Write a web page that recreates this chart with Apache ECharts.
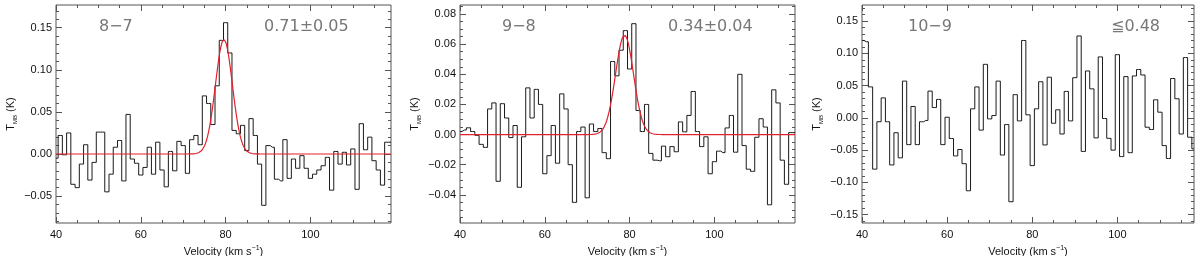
<!DOCTYPE html>
<html><head><meta charset="utf-8">
<script src="https://cdn.jsdelivr.net/npm/echarts@6/dist/echarts.min.js"></script>
<style>html,body{margin:0;padding:0;background:#fff}#c{width:1200px;height:256px}</style>
</head><body><div id="c"></div>
<script>
// ---- data ----
const velStart = 40;   // km/s, first channel
const velStep = 1;     // km/s per channel
const spec87 = [-0.005,0.022,-0.001,0.025,-0.036,-0.040,-0.012,0.011,-0.031,-0.010,
  0.026,0.026,-0.045,-0.024,0.008,0.016,-0.032,0.047,-0.006,-0.011,
  -0.025,-0.016,0.008,-0.024,0.014,-0.019,-0.039,0.003,-0.020,0.015,
  0.010,-0.023,0.017,0.022,0.011,0.069,0.060,0.035,0.081,0.135,
  0.156,0.120,0.028,0.024,0.034,0.004,0.042,0.022,-0.012,-0.061,
  0.010,0.008,-0.030,-0.032,0.017,-0.029,-0.006,-0.017,-0.002,-0.017,
  -0.029,-0.024,-0.019,-0.014,-0.004,-0.043,0.003,-0.012,0.002,-0.013,
  0.006,-0.042,0.036,0.005,0.020,-0.008,-0.019,-0.037,0.014,0.014];
const spec98 = [0.002,0.003,0.0045,0.002,-0.0005,-0.0065,-0.0085,0.017,0.021,-0.031,
  0.0205,0.011,-0.002,0.006,-0.035,-0.0015,0.031,0.011,0.030,0.020,
  -0.026,-0.014,0.006,-0.019,0.027,0.017,-0.020,-0.045,0.002,0.005,
  -0.042,0.007,0.002,0.004,-0.012,-0.016,0.0485,0.039,0.056,0.069,
  0.0435,0.0736,0.016,0.002,0.020,-0.0125,-0.017,-0.0174,-0.0077,-0.0147,
  -0.008,-0.0114,0.0084,0.0018,0.0127,0.0286,0.002,-0.008,-0.0015,-0.026,
  -0.018,-0.011,-0.012,0.0044,0.0127,-0.0117,0.040,-0.0073,-0.023,-0.0244,
  -0.0018,0.0105,0.005,-0.0466,0.0297,0.021,-0.017,-0.033,0.0013,0.0013];
const spec109 = [0.120,0.118,0.048,-0.0795,-0.006,0.031,-0.006,-0.073,-0.023,-0.062,
  0.057,-0.0415,0.0177,-0.0415,-0.006,-0.004,0.0415,0.016,0.0286,-0.0415,
  0.001,-0.032,-0.059,-0.049,-0.071,-0.113,0.014,0.048,-0.019,0.083,
  -0.0016,0.0036,0.057,-0.0576,-0.0104,-0.130,0.036,-0.0047,0.120,0.0047,
  -0.074,0.014,0.056,-0.042,0.063,-0.0083,0.0125,-0.025,0.041,-0.0047,
  0.0623,0.127,-0.052,0.0727,0.045,-0.031,0.0945,-0.001,-0.0317,-0.050,
  0.098,-0.060,0.064,-0.054,0.065,0.075,0.0665,-0.0145,-0.018,0.028,
  0.0088,-0.043,-0.063,0.061,0.0296,-0.025,0.0935,-0.030,-0.048];
// Gaussian fits: [amplitude K, centre km/s, FWHM km/s]
const fit87 = [0.136, 79.6, 4.7];
const fit98 = [0.066, 78.8, 5.0];
const lineLabels = ['8\u22127', '9\u22128', '10\u22129'];
const intensityLabels = ['0.71\u00b10.05', '0.34\u00b10.04', '\u22660.48'];
const xTicks = [40, 60, 80, 100];
const yTicks87 = [-0.05, 0, 0.05, 0.10, 0.15];
const yTicks98 = [-0.04, -0.02, 0, 0.02, 0.04, 0.06, 0.08];
const yTicks109 = [-0.15, -0.10, -0.05, 0, 0.05, 0.10, 0.15];

// ---- layout ----
const panels = [
  {spec: spec87, fit: fit87, yTicks: yTicks87, yMinor: 0.01, xr: [40, 119], yr: [-0.082, 0.177], left: 56, width: 335, t1: 99, t2: 264},
  {spec: spec98, fit: fit98, yTicks: yTicks98, yMinor: 0.005, xr: [40, 119], yr: [-0.0587, 0.086], left: 460, width: 335, t1: 502, t2: 668},
  {spec: spec109, fit: null, yTicks: yTicks109, yMinor: 0.01, xr: [40, 118], yr: [-0.163, 0.175], left: 862, width: 332, t1: 908, t2: 1111}
];
const FONT = '"Liberation Sans", "DejaVu Sans", "Noto Sans CJK SC", sans-serif';
const NOTE_FONT = '"DejaVu Sans ExtraLight", "DejaVu Sans", "Noto Sans CJK SC", sans-serif';
const FRAME = '#555';
const TOP = 5, HEIGHT = 218;

function minorVals(lo, hi, step) {
  const out = [];
  for (let k = Math.ceil(lo / step - 1e-9); k * step <= hi + 1e-12; k++) out.push(Math.round(k * step * 1e6) / 1e6);
  return out;
}
const fmtY = v => (v < -1e-9 ? '\u2212' : '') + Math.abs(v).toFixed(2);

const grid = [], xAxis = [], yAxis = [], series = [], graphic = [];
panels.forEach((p, g) => {
  grid.push({left: p.left, top: TOP, width: p.width, height: HEIGHT, show: true, borderColor: FRAME, borderWidth: 1,
    backgroundColor: 'transparent', containLabel: false, outerBoundsMode: 'none'});
  const xMin = minorVals(p.xr[0], p.xr[1], 5);
  const yMin = minorVals(p.yr[0], p.yr[1], p.yMinor);
  const base = {type: 'value', gridIndex: g, axisLine: {show: false, onZero: false}, splitLine: {show: false}, axisPointer: {show: false}};
  const tick = (vals, len) => ({show: true, inside: true, length: len, customValues: vals, lineStyle: {color: FRAME, width: 1}});
  // x axes: bottom major (labels), bottom minor, top major, top minor
  xAxis.push(Object.assign({}, base, {position: 'bottom', min: p.xr[0], max: p.xr[1], axisTick: tick(xTicks, 6),
    axisLabel: {show: true, customValues: xTicks, margin: 6, color: '#111', fontSize: 11, fontFamily: FONT, formatter: v => String(Math.round(v))},
    name: '{a|Velocity (km s}{s|\u22121}{a|)}', nameLocation: 'middle', nameGap: 17,
    nameTextStyle: {rich: {a: {fontSize: 11, fontFamily: FONT, color: '#111', lineHeight: 14}, s: {fontSize: 7, fontFamily: FONT, color: '#111', verticalAlign: 'top'}}}}));
  xAxis.push(Object.assign({}, base, {position: 'bottom', min: p.xr[0], max: p.xr[1], axisTick: tick(xMin, 3), axisLabel: {show: false}}));
  xAxis.push(Object.assign({}, base, {position: 'top', min: p.xr[0], max: p.xr[1], axisTick: tick(xTicks, 6), axisLabel: {show: false}}));
  xAxis.push(Object.assign({}, base, {position: 'top', min: p.xr[0], max: p.xr[1], axisTick: tick(xMin, 3), axisLabel: {show: false}}));
  // y axes: left major (labels), left minor, right major, right minor
  yAxis.push(Object.assign({}, base, {position: 'left', min: p.yr[0], max: p.yr[1], axisTick: tick(p.yTicks, 6),
    axisLabel: {show: true, customValues: p.yTicks, margin: 4, color: '#111', fontSize: 11, fontFamily: FONT, formatter: fmtY},
    name: '{a|T}{b|MB}{a| (K)}', nameLocation: 'middle', nameRotate: 90, nameGap: 38,
    nameTextStyle: {rich: {a: {fontSize: 11, fontFamily: FONT, color: '#111', lineHeight: 14}, b: {fontSize: 6, fontFamily: FONT, color: '#111', verticalAlign: 'bottom'}}}}));
  yAxis.push(Object.assign({}, base, {position: 'left', min: p.yr[0], max: p.yr[1], axisTick: tick(yMin, 3), axisLabel: {show: false}}));
  yAxis.push(Object.assign({}, base, {position: 'right', min: p.yr[0], max: p.yr[1], axisTick: tick(p.yTicks, 6), axisLabel: {show: false}}));
  yAxis.push(Object.assign({}, base, {position: 'right', min: p.yr[0], max: p.yr[1], axisTick: tick(yMin, 3), axisLabel: {show: false}}));

  const data = p.spec.map((v, i) => [velStart + i * velStep, v]);
  series.push({type: 'line', xAxisIndex: 4 * g, yAxisIndex: 4 * g, data, step: 'middle', showSymbol: false, symbol: 'none',
    lineStyle: {color: '#1a1a1a', width: 1}, silent: true, z: 2});
  if (p.fit) {
    const [amp, c, fwhm] = p.fit;
    const sig = fwhm / 2.3548;
    const fd = [];
    for (let x = p.xr[0]; x <= p.xr[1] + 1e-9; x += 0.2) fd.push([x, amp * Math.exp(-0.5 * ((x - c) / sig) ** 2)]);
    series.push({type: 'line', xAxisIndex: 4 * g, yAxisIndex: 4 * g, data: fd, showSymbol: false, symbol: 'none',
      lineStyle: {color: '#e3202c', width: 1.2}, silent: true, z: 3});
  }
  graphic.push({type: 'text', left: p.t1, top: 19, style: {text: lineLabels[g], font: '16px ' + NOTE_FONT, fill: '#777'}});
  graphic.push({type: 'text', left: p.t2, top: 19, style: {text: intensityLabels[g], font: '16px ' + NOTE_FONT, fill: '#777'}});
});

const chart = echarts.init(document.getElementById('c'), null, {renderer: 'canvas'});
chart.setOption({animation: false, backgroundColor: '#fff', grid, xAxis, yAxis, series, graphic});
</script></body></html>
